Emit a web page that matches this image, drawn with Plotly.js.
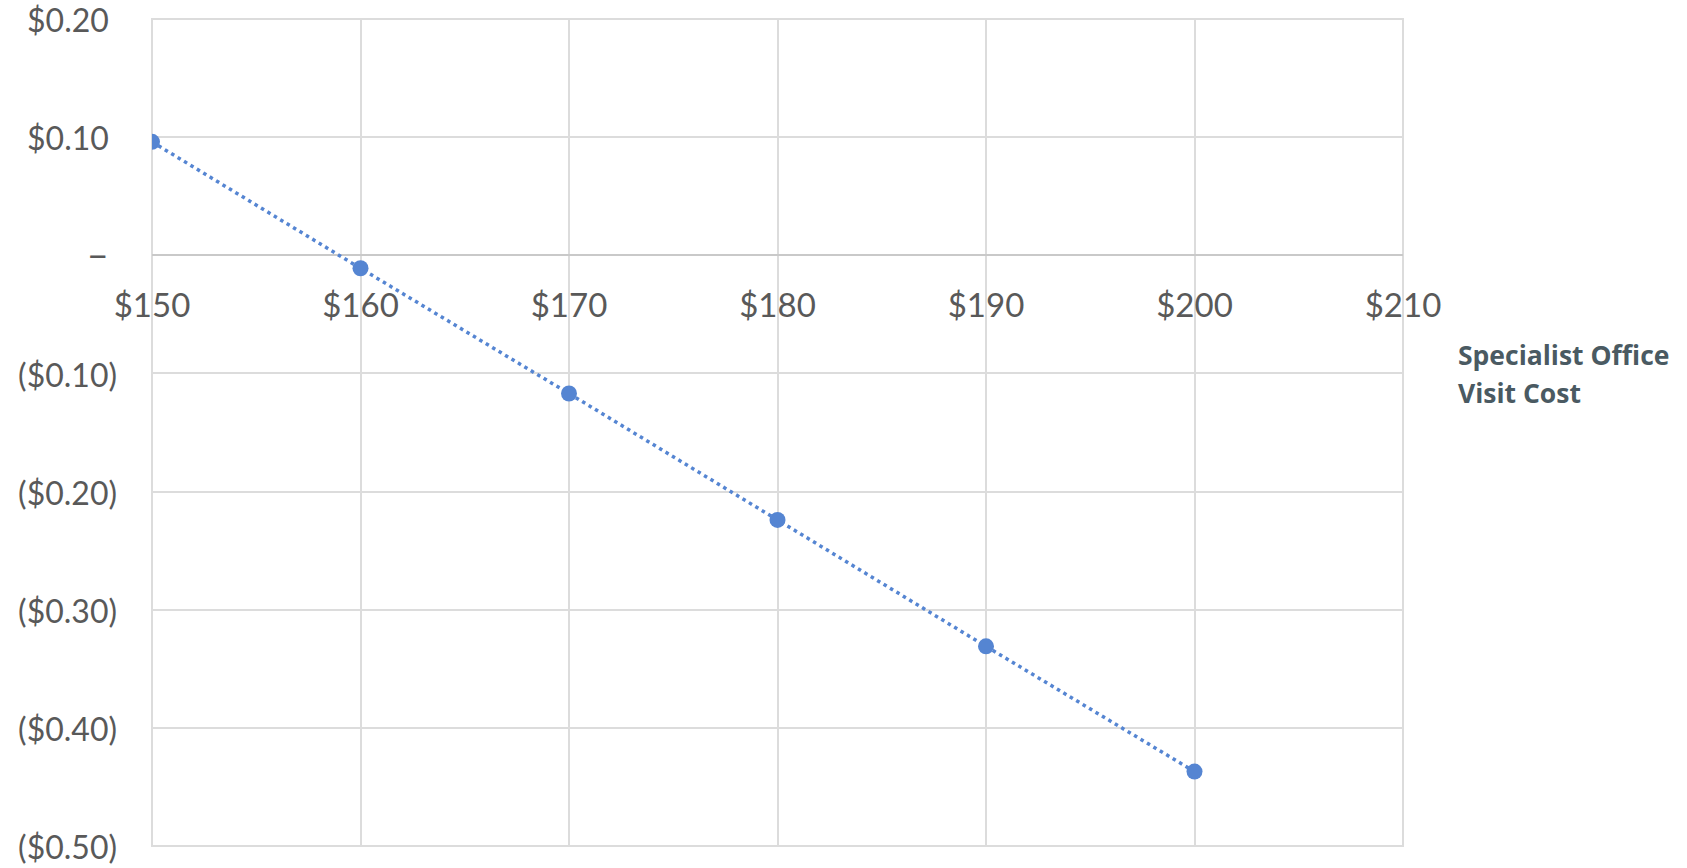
<!DOCTYPE html>
<html>
<head>
<meta charset="utf-8">
<script src="https://cdn.plot.ly/plotly-3.0.1.min.js"></script>
<style>html,body{margin:0;padding:0;background:#fff;}#chart{width:1687px;height:868px;}</style>
</head>
<body>
<div id="chart"></div>
<script>
const visitCost = [150, 160, 170, 180, 190, 200];
const netChange = [0.096, -0.011, -0.117, -0.224, -0.331, -0.437];
const xTickVals = [150, 160, 170, 180, 190, 200, 210];
const xTickText = ['$150', '$160', '$170', '$180', '$190', '$200', '$210'];
const yTickVals = [0.2, 0.1, 0, -0.1, -0.2, -0.3, -0.4, -0.5];
const yTickText = ['$0.20\u00a0', '$0.10\u00a0', '<span style="font-size:38px">\u2013</span>\u00a0', '($0.10)', '($0.20)', '($0.30)', '($0.40)', '($0.50)'];
const xTitleLines = ['Specialist Office', 'Visit Cost'];

const yRange = [-0.5, 0.2];
const zeroPos = (0 - yRange[0]) / (yRange[1] - yRange[0]);

const xTickFont = {family: 'Lato, Open Sans, sans-serif', size: 33, color: '#595959'};
const yTickFont = {family: 'Lato, Open Sans, sans-serif', size: 32, color: '#595959'};
const gridCol = '#dcdcdc';

const trace = {
  x: visitCost,
  y: netChange,
  type: 'scatter',
  mode: 'lines+markers',
  line: {color: '#5585d2', width: 3.5, dash: '3.5px,4px'},
  marker: {color: '#5585d2', size: 16},
  hoverinfo: 'x+y'
};

const layout = {
  width: 1687,
  height: 868,
  margin: {l: 152, r: 284, t: 19, b: 22},
  paper_bgcolor: '#ffffff',
  plot_bgcolor: '#ffffff',
  showlegend: false,
  xaxis: {
    range: [150, 210],
    tickvals: xTickVals,
    ticktext: xTickText,
    showgrid: true,
    gridcolor: gridCol,
    gridwidth: 2,
    zeroline: false,
    showline: false,
    ticks: '',
    ticklabelstandoff: 28,
    ticklabeloverflow: 'allow',
    tickfont: xTickFont,
    anchor: 'free',
    position: zeroPos
  },
  yaxis: {
    range: yRange,
    tickvals: yTickVals,
    ticktext: yTickText,
    showgrid: true,
    gridcolor: gridCol,
    gridwidth: 2,
    zeroline: true,
    zerolinecolor: '#c9c9c9',
    zerolinewidth: 2,
    showline: false,
    ticks: '',
    ticklabelstandoff: 34,
    ticklabelshift: 2,
    ticklabeloverflow: 'allow',
    tickfont: yTickFont,
    domain: [0, 1]
  },
  shapes: [{
    type: 'rect', xref: 'paper', yref: 'paper',
    x0: 0, x1: 1, y0: 0, y1: 1,
    line: {color: gridCol, width: 2},
    layer: 'below'
  }],
  annotations: xTitleLines.map((t, i) => ({
    text: '<b>' + t + '</b>',
    xref: 'paper', yref: 'paper',
    x: 1.0425, y: 0.5937 - i * 0.0455,
    xanchor: 'left', yanchor: 'middle',
    align: 'left',
    showarrow: false,
    font: {family: 'Open Sans, sans-serif', size: 26.5, color: '#4a5a62'}
  }))
};

Plotly.newPlot('chart', [trace], layout, {displayModeBar: false, staticPlot: true});
</script>
</body>
</html>
